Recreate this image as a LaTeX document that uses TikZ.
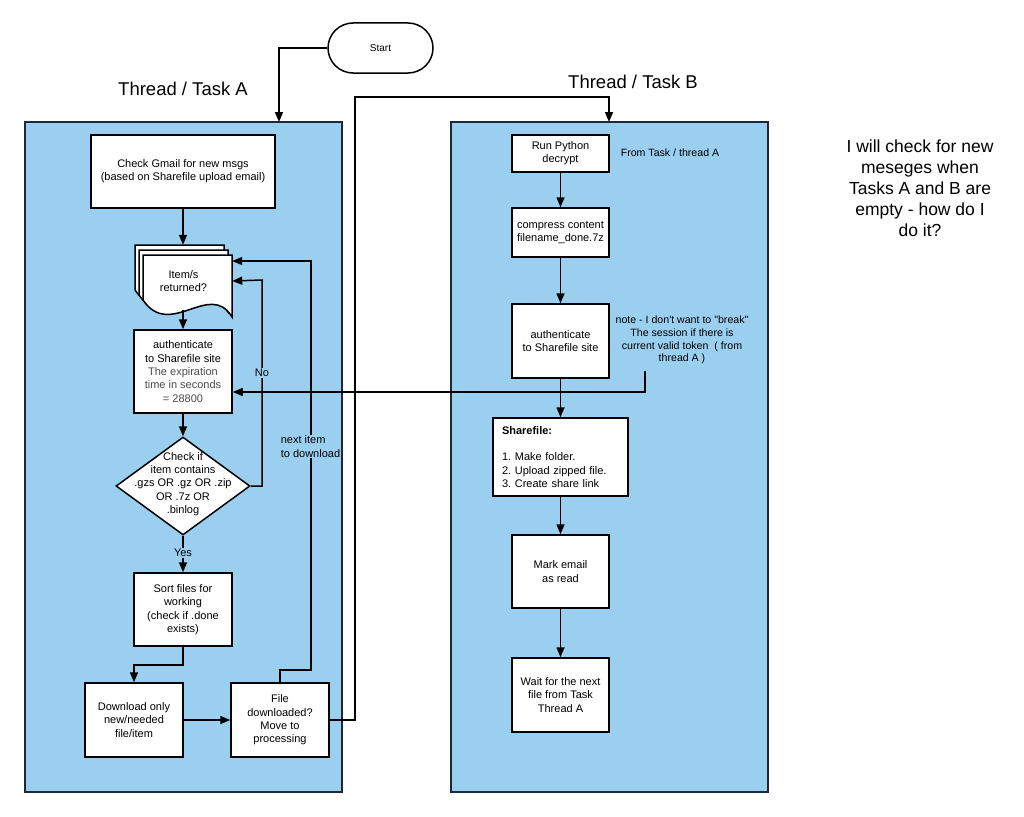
\documentclass[tikz,border=0pt]{standalone}
\usepackage{fontspec}
\setmainfont{Liberation Sans}
\usetikzlibrary{arrows.meta,shapes.geometric}
\definecolor{panelblue}{RGB}{155,207,240}
\definecolor{paneledge}{RGB}{30,40,55}
\definecolor{greytext}{RGB}{75,75,75}
\newcommand{\fsbox}{\fontsize{11}{13.3}\selectfont\frenchspacing}
\newcommand{\fsnote}{\fontsize{10.6}{12.8}\selectfont}
\begin{document}
\begin{tikzpicture}[x=1pt,y=-1pt,
  panel/.style={draw=paneledge, fill=panelblue, line width=1.6pt},
  box/.style={draw=black, fill=white, line width=1.5pt, inner sep=0pt, align=center, font=\fsbox, text=black},
  docpage/.style={draw=black, fill=white, line width=1.5pt},
  conn/.style={line width=1.5pt, draw=black},
  arr/.style={conn, -{Triangle[length=10pt,width=8pt]}},
  lbl/.style={fill=panelblue, inner sep=1pt, font=\fsbox, align=center},
  titletext/.style={font=\fontsize{18.5}{22}\selectfont},
]
\useasboundingbox (0,0) rectangle (1024,816);
\fill[white] (0,0) rectangle (1024,816);

% panels
\draw[panel] (25,122) rectangle (342,792);
\draw[panel] (451,122) rectangle (768,792);

% titles and notes
\node[titletext] (titleA) at (183,89) {Thread / Task A};
\node[titletext] (titleB) at (633,82) {Thread / Task B};
\node[font=\fontsize{17.5}{21}\selectfont, align=center] (bignote) at (920,188)
  {I will check for new\\meseges when\\Tasks A and B are\\empty - how do I\\do it?};

% start
\node[draw=black, fill=white, line width=1.5pt, rounded corners=25pt, minimum width=105pt, minimum height=50pt, inner sep=0pt, font=\fontsize{10}{12}\selectfont] (start) at (380.5,48) {Start};
\coordinate (ain) at (279,122);
\draw[arr] (start.west) -| (ain);

% Thread A nodes
\node[box, minimum width=184pt, minimum height=73pt] (gmail) at (183,171.5)
  {Check Gmail for new msgs\\(based on Sharefile upload email)};

\foreach \dx/\dy in {-8/-10, -4/-5, 0/0} {
  \draw[docpage, shift={(\dx,\dy)}] (143,255) -- (232,255) -- (232,317)
     .. controls (210,280) and (170,340) .. (143,300) -- cycle;
}
\node[inner sep=0pt, minimum width=98pt, minimum height=72pt, font=\fsbox, align=center] (doc) at (183,281) {\hspace*{1pt}Item/s\\\hspace*{1pt}returned?};
\coordinate (docb) at (183,310);

\node[box, minimum width=98pt, minimum height=83pt] (authA) at (183,371.5)
  {authenticate\\to Sharefile site\\\textcolor{greytext}{The expiration}\\\textcolor{greytext}{time in seconds}\\\textcolor{greytext}{= 28800}};

\node[draw=black, fill=white, line width=1.5pt, diamond, aspect=1.37, inner sep=0pt, minimum width=134pt, minimum height=98pt] (dia) at (183,486) {};
\node[font=\fsbox, align=center, inner sep=0pt] (diatxt) at (183,484)
  {Check if\\item contains\\.gzs OR .gz OR .zip\\OR .7z OR\\.binlog};

\node[box, minimum width=98pt, minimum height=73pt] (sort) at (183,609.5)
  {Sort files for\\working\\(check if .done\\exists)};
\node[box, minimum width=98pt, minimum height=74pt] (dl) at (134,720)
  {Download only\\new/needed\\file/item};
\node[box, minimum width=98pt, minimum height=74pt] (file) at (280,720)
  {File\\downloaded?\\Move to\\processing};

% Thread B nodes
\node[box, minimum width=97pt, minimum height=37pt] (py) at (560.5,153.5) {Run Python\\decrypt};
\node[font=\fsnote] (fromA) at (670,153) {From Task / thread A};
\node[box, minimum width=97pt, minimum height=49pt] (comp) at (560.5,232.5) {compress content\\filename\_done.7z};
\node[box, minimum width=97pt, minimum height=74pt] (authB) at (560.5,341) {authenticate\\to Sharefile site};
\node[font=\fsnote, align=center] (note) at (682,340)
  {note - I don\textquotesingle t want to \textquotedbl break\textquotedbl\\The session if there is\\current valid token~ ( from\\thread A )};
\node[box, minimum height=78pt, text width=117pt, inner xsep=9pt, align=left] (share) at (560.5,457)
  {\textbf{Sharefile:}\\[13pt]1. Make folder.\\2. Upload zipped file.\\3. Create share link};
\node[box, minimum width=97pt, minimum height=73pt] (mark) at (560.5,571.5) {Mark email\\as read};
\node[box, minimum width=97pt, minimum height=74pt] (wait) at (560.5,695) {Wait for the next\\file from Task\\Thread A};

% Thread A connectors
\draw[arr] (gmail.south) -- (doc.north);
\draw[arr] (docb) -- (authA.north);
\draw[arr] (authA.south) -- (dia.north);
\coordinate (nox) at (262,280);
\draw[arr] (dia.east) -| (nox) -- (doc.east);
\node[lbl] (nolbl) at (262,373) {No};
\draw[arr] (dia.south) -- (sort.north);
\node[lbl] (yeslbl) at (183,553) {Yes};
\coordinate (sd) at (183,665);
\draw[arr] (sort.south) -- (sd) -| (dl.north);
\draw[arr] (dl.east) -- (file.west);
\coordinate (nx1) at (311,670);
\coordinate (nx2) at (311,261);
\draw[arr] (file.north) |- (nx1) -- (nx2) -- (nx2 -| doc.east);
\node[lbl, align=left] (nxlbl) at (310.5,446.5) {next item\\to download};

% cross connector A -> B
\coordinate (e1) at (355,97);
\coordinate (bin) at (609,122);
\draw[arr] (file.east) -| (e1) -| (bin);

% Thread B connectors
\draw[arr] (py.south) -- (comp.north);
\draw[arr] (comp.south) -- (authB.north);
\draw[arr] (authB.south) -- (share.north);
\draw[arr] (share.south) -- (mark.north);
\draw[arr] (mark.south) -- (wait.north);

% note -> auth A
\coordinate (nt) at (645,371);
\coordinate (ntb) at (645,392);
\draw[arr] (nt) -- (ntb) -- (ntb -| authA.east);
\end{tikzpicture}
\end{document}
